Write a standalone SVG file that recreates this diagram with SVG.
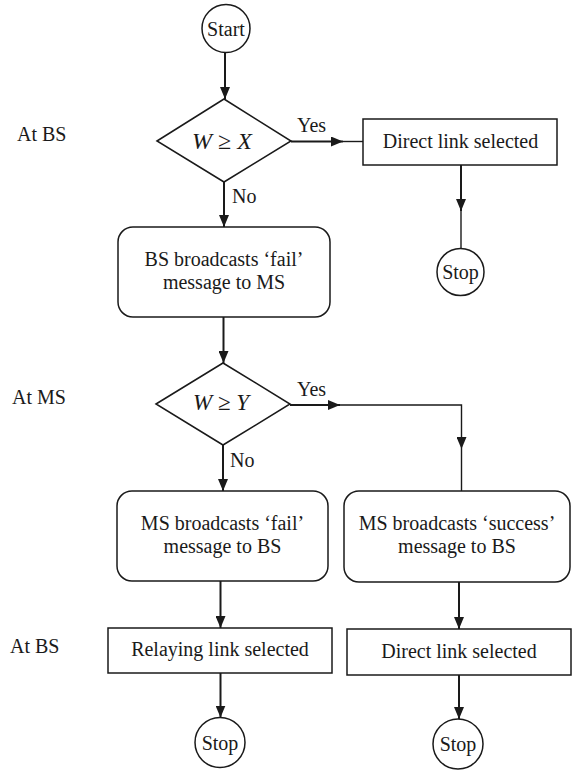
<svg xmlns="http://www.w3.org/2000/svg" width="575" height="770" viewBox="0 0 575 770">
<style>
  text { font-family: "Liberation Serif", "Times New Roman", serif; font-size: 20px; fill: #1a1a1a; }
  .c { text-anchor: middle; }
  .m { font-size: 24px; }
  .m2 { font-size: 23px; }
  .i { font-style: italic; }
  .shape { fill: #ffffff; stroke: #1a1a1a; stroke-width: 1.5; }
  .thick { fill: none; stroke: #1a1a1a; stroke-width: 2; }
  .thin { fill: none; stroke: #1a1a1a; stroke-width: 1.4; }
</style>
<defs>
  <marker id="arr" viewBox="0 0 12 10" refX="12" refY="5" markerWidth="12" markerHeight="10" markerUnits="userSpaceOnUse" orient="auto">
    <path d="M0,0 L12,5 L0,10 z" fill="#1a1a1a"/>
  </marker>
</defs>
<rect width="575" height="770" fill="#ffffff"/>

<g id="labels">
  <text x="17" y="141">At BS</text>
  <text x="12" y="404">At MS</text>
  <text x="10" y="653">At BS</text>
</g>

<g id="connectors">
  <line class="thick" x1="225" y1="53" x2="225" y2="99" marker-end="url(#arr)"/>
  <line class="thick" x1="291" y1="141.5" x2="343" y2="141.5" marker-end="url(#arr)"/>
  <line class="thin" x1="343" y1="141.5" x2="363" y2="141.5"/>
  <line class="thick" x1="461" y1="165" x2="461" y2="211" marker-end="url(#arr)"/>
  <line class="thin" x1="461" y1="211" x2="461" y2="248.5"/>
  <line class="thick" x1="224" y1="182" x2="224" y2="227" marker-end="url(#arr)"/>
  <line class="thick" x1="223.5" y1="317" x2="223.5" y2="363" marker-end="url(#arr)"/>
  <line class="thick" x1="223" y1="445" x2="223" y2="491" marker-end="url(#arr)"/>
  <line class="thick" x1="290" y1="405" x2="340" y2="405" marker-end="url(#arr)"/>
  <polyline class="thin" points="340,405 461.5,405 461.5,449" marker-end="url(#arr)"/>
  <line class="thin" x1="461.5" y1="449" x2="461.5" y2="491"/>
  <line class="thick" x1="220.5" y1="581" x2="220.5" y2="628" marker-end="url(#arr)"/>
  <line class="thick" x1="220.5" y1="673" x2="220.5" y2="717.5" marker-end="url(#arr)"/>
  <line class="thick" x1="459" y1="582" x2="459" y2="629" marker-end="url(#arr)"/>
  <line class="thick" x1="459" y1="675" x2="459" y2="719" marker-end="url(#arr)"/>
  <text x="297" y="132">Yes</text>
  <text x="232" y="203">No</text>
  <text x="297" y="396">Yes</text>
  <text x="230" y="467">No</text>
</g>

<g id="start">
  <circle class="shape" cx="226" cy="28.5" r="24"/>
  <text class="c" x="226" y="35.5">Start</text>
</g>

<g id="decision1">
  <polygon class="shape" points="157,141 224,99 291,141 224,182"/>
  <text class="c m" x="222" y="148.5"><tspan class="i">W</tspan> ≥ <tspan class="i">X</tspan></text>
</g>

<g id="direct1">
  <rect class="shape" x="363" y="119" width="194" height="46"/>
  <text class="c" x="460.5" y="148">Direct link selected</text>
</g>

<g id="stop1">
  <circle class="shape" cx="460.5" cy="272" r="23.5"/>
  <text class="c" x="460.5" y="279">Stop</text>
</g>

<g id="bsfail">
  <rect class="shape" x="118" y="227" width="212" height="90" rx="15" ry="15"/>
  <text class="c" x="224" y="266">BS broadcasts ‘fail’</text>
  <text class="c" x="224" y="289">message to MS</text>
</g>

<g id="decision2">
  <polygon class="shape" points="156,404 223,363 290,404 223,445"/>
  <text class="c m2" x="221" y="409.5"><tspan class="i">W</tspan> ≥ <tspan class="i">Y</tspan></text>
</g>

<g id="msfail">
  <rect class="shape" x="117" y="491" width="211" height="90" rx="15" ry="15"/>
  <text class="c" x="222.5" y="530">MS broadcasts ‘fail’</text>
  <text class="c" x="222.5" y="553">message to BS</text>
</g>

<g id="mssuccess">
  <rect class="shape" x="344" y="491" width="226" height="91" rx="15" ry="15"/>
  <text class="c" x="457" y="530">MS broadcasts ‘success’</text>
  <text class="c" x="457" y="553">message to BS</text>
</g>

<g id="relaying">
  <rect class="shape" x="108" y="628" width="224" height="45"/>
  <text class="c" x="220" y="656">Relaying link selected</text>
</g>

<g id="direct2">
  <rect class="shape" x="347" y="629" width="224" height="46"/>
  <text class="c" x="459" y="658">Direct link selected</text>
</g>

<g id="stop2">
  <circle class="shape" cx="220" cy="742.5" r="25"/>
  <text class="c" x="220" y="749.5">Stop</text>
</g>

<g id="stop3">
  <circle class="shape" cx="458" cy="744" r="25"/>
  <text class="c" x="458" y="751">Stop</text>
</g>
</svg>
